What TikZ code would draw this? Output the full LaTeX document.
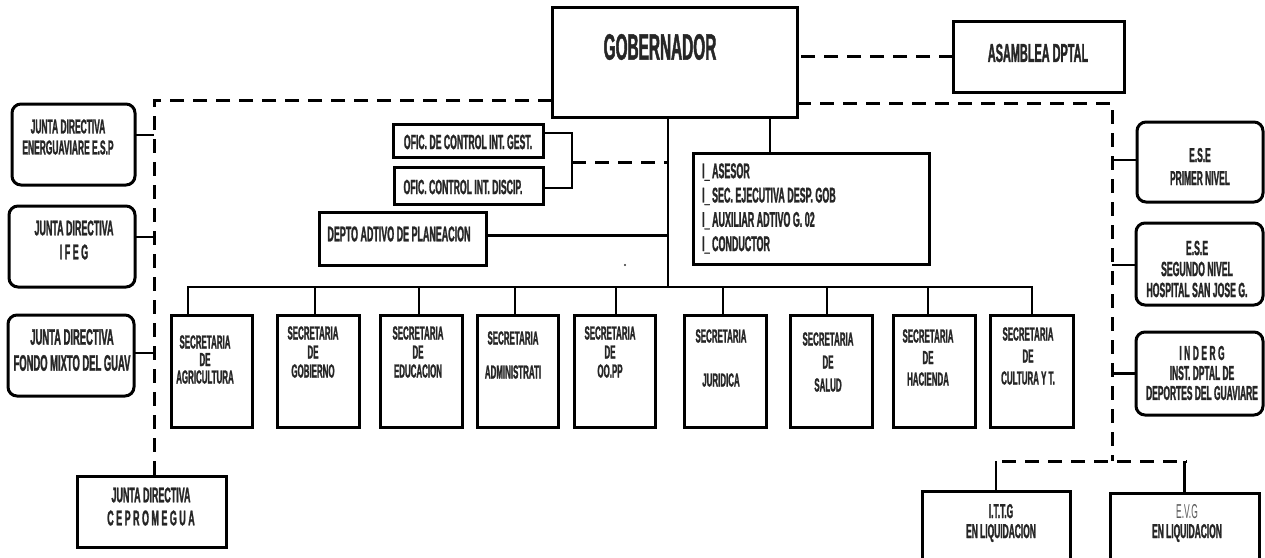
\documentclass[tikz,border=0pt]{standalone}
\usepackage{fontspec}
\newfontfamily\cf{Liberation Sans}[UprightFeatures={FakeStretch=0.42}, BoldFeatures={FakeStretch=0.42, FakeBold=1.2}]
\newcommand\spc{\kern2.5pt}
\begin{document}
\begin{tikzpicture}[x=1pt,y=-1pt,
  box/.style={draw=black, line width=3pt, fill=white, inner sep=0pt, outer sep=0pt},
  rbox/.style={box, rounded corners=9pt},
  sz/.style 2 args={minimum width=#1pt, minimum height=#2pt},
  conn/.style={line width=2.6pt},
  dashln/.style={line width=3pt, dash pattern=on 14pt off 9pt},
  txt/.style={inner sep=0pt, text=black!85, align=center},
  fs/.style 2 args={font=\cf\bfseries\fontsize{\fpeval{#1*1.18}}{#2}\selectfont}]
\useasboundingbox (0,0) rectangle (1265,557);
\clip (0,0) rectangle (1265,557);
\fill[white] (0,0) rectangle (1265,557);

% boxes
\node[box, sz={245}{110}] (gob) at (674.5,62) {};
\node[box, sz={171}{71}] (asam) at (1038.5,56.5) {};
\node[rbox, sz={123}{81}] (je) at (73.5,144.5) {};
\node[rbox, sz={126}{81}] (jf) at (72,246.5) {};
\node[rbox, sz={126}{81}] (jm) at (71,355.5) {};
\node[box, sz={149}{71}] (jc) at (151.5,511.5) {};
\node[rbox, sz={126}{80}] (e1) at (1200,162) {};
\node[rbox, sz={127}{82}] (e2) at (1199.5,264) {};
\node[rbox, sz={127}{83}] (e3) at (1199.5,373.5) {};
\node[box, sz={150}{33}] (ofg) at (468,140.5) {};
\node[box, sz={149}{37}] (ofd) at (468.5,185.5) {};
\node[box, sz={167}{53}] (dep) at (402.5,238.5) {};
\node[box, sz={236}{111}] (staff) at (811,208.5) {};
\node[box, sz={148}{99}] (ittg) at (996,540.5) {};
\node[box, sz={149}{97}] (evg) at (1184.5,541.5) {};
\node[box, sz={81}{112}] (s1) at (211.5,371) {};
\node[box, sz={82}{112}] (s2) at (318,371) {};
\node[box, sz={82}{112}] (s3) at (421,371) {};
\node[box, sz={81}{112}] (s4) at (517.5,371) {};
\node[box, sz={81}{112}] (s5) at (614.5,371) {};
\node[box, sz={82}{112}] (s6) at (725,371) {};
\node[box, sz={82}{112}] (s7) at (831,371) {};
\node[box, sz={82}{112}] (s8) at (934,371) {};
\node[box, sz={83}{112}] (s9) at (1031.5,371) {};

% texts
\node[txt, fs={31}{36}] (tgob) at (660,47) {GOBERNADOR};
\node[txt, fs={22}{26}] (tasam) at (1038,53) {ASAMBLEA DPTAL};
\node[txt, fs={17}{21}] (tje) at (68,137) {JUNTA DIRECTIVA\\ENERGUAVIARE E.S.P};
\node[txt, fs={18}{24}] (tjf) at (74,240) {JUNTA DIRECTIVA\\I\spc F\spc E\spc G};
\node[txt, fs={19}{26}] (tjm) at (72,350) {JUNTA DIRECTIVA\\FONDO MIXTO DEL GUAV};
\node[txt, fs={18}{23}] (tjc) at (151,506.5) {JUNTA DIRECTIVA\\C\spc E\spc P\spc R\spc O\spc M\spc E\spc G\spc U\spc A};
\node[txt, fs={17}{23}] (te1) at (1200,166.5) {E.S.E\\PRIMER NIVEL};
\node[txt, fs={17.5}{21}] (te2) at (1197,269) {E.S.E\\SEGUNDO NIVEL\\HOSPITAL SAN JOSE G.};
\node[txt, fs={17}{20}] (te3) at (1202,373) {I\spc N\spc D\spc E\spc R\spc G\\INST. DPTAL DE\\DEPORTES DEL GUAVIARE};
\node[txt, fs={17.5}{20}] (tofg) at (468,142) {OFIC. DE CONTROL INT. GEST.};
\node[txt, fs={17.5}{20}] (tofd) at (463,187) {OFIC. CONTROL INT. DISCIP.};
\node[txt, fs={18}{20}] (tdep) at (399,234) {DEPTO ADTIVO DE PLANEACION};
\node[txt, fs={18}{24.3}, anchor=west, align=left] (tstaff) at (702,208.5) {I\_ ASESOR\\I\_ SEC. EJECUTIVA DESP. GOB\\I\_ AUXILIAR ADTIVO G. 02\\I\_ CONDUCTOR};
\node[txt, fs={17}{20}] (tittg) at (1001,523) {I.T.T.G\\EN LIQUIDACION};
\node[txt, fs={17}{20}] (tevg) at (1187,523) {{\mdseries\color{black!65}E.V.G}\\EN LIQUIDACION};
\node[txt, fs={16}{17.5}] (ts1) at (205,359.5) {SECRETARIA\\DE\\AGRICULTURA};
\node[txt, fs={16}{19}] (ts2) at (313,352) {SECRETARIA\\DE\\GOBIERNO};
\node[txt, fs={16}{19}] (ts3) at (418,352) {SECRETARIA\\DE\\EDUCACION};
\node[txt, fs={16}{34}] (ts4) at (513,355) {SECRETARIA\\ADMINISTRATI};
\node[txt, fs={16}{19}] (ts5) at (610,352) {SECRETARIA\\DE\\OO.PP};
\node[txt, fs={16}{44}] (ts6) at (721,358) {SECRETARIA\\JURIDICA};
\node[txt, fs={16}{23}] (ts7) at (828,362) {SECRETARIA\\DE\\SALUD};
\node[txt, fs={16}{21.5}] (ts8) at (928,357.5) {SECRETARIA\\DE\\HACIENDA};
\node[txt, fs={16}{22}] (ts9) at (1028,356) {SECRETARIA\\DE\\CULTURA Y T.};

% coordinates
\coordinate (bus) at (668,287);
\coordinate (fl) at (154,100);
\coordinate (fr) at (1112,103);
\coordinate (fb) at (1112,461);
\coordinate (br) at (572,162);
\coordinate (st) at ([xshift=-41pt]staff.north);
\coordinate (d1) at ([xshift=-23.5pt]s1.north);
\coordinate (d2) at ([xshift=-3pt]s2.north);
\coordinate (d3) at ([xshift=-2pt]s3.north);
\coordinate (d4) at ([xshift=-2.5pt]s4.north);
\coordinate (d5) at ([xshift=1.5pt]s5.north);
\coordinate (d6) at ([xshift=-2pt]s6.north);
\coordinate (d7) at ([xshift=-4pt]s7.north);
\coordinate (d8) at ([xshift=-6pt]s8.north);
\coordinate (d9) at ([xshift=0.5pt]s9.north);
\coordinate (c1) at ([yshift=9.5pt]je.east);
\coordinate (c2) at ([yshift=9.5pt]jf.east);
\coordinate (c3) at ([yshift=2.5pt]jm.east);
\coordinate (r1) at ([yshift=2pt]e1.west);
\coordinate (r2) at ([yshift=-1pt]e2.west);
\coordinate (r3) at (e3.west);
\coordinate (dp) at ([yshift=3pt]dep.east);

% solid connectors
\draw[conn] (gob.south -| bus) -- (bus);
\draw[conn] (st |- gob.south) -- (st);
\draw[conn] (d1) -- (d1 |- bus) -- (d9 |- bus) -- (d9);
\foreach \d in {d2,d3,d4,d5,d6,d7,d8} \draw[conn] (\d |- bus) -- (\d);
\draw[conn] ([yshift=7.5pt]ofg.east) -| (br) |- ([yshift=-2.5pt]ofd.east);
\draw[line width=3.4pt] (dp) -- (dp -| bus);
\draw[conn] (c1) -- (c1 -| fl);
\draw[conn] (c2) -- (c2 -| fl);
\draw[conn] (c3) -- (c3 -| fl);
\draw[conn] (r1) -- (r1 -| fr);
\draw[conn] (r2) -- (r2 -| fr);
\draw[conn] (r3) -- (r3 -| fr);
\draw[conn] (ittg.north |- fb) -- (ittg.north);
\draw[conn] (evg.north |- fb) -- (evg.north);

% dashed connectors
\draw[dashln] (asam.west) -- (asam.west -| gob.east);
\draw[dashln] (gob.west |- fl) -- (fl) -- (fl |- jc.north);
\draw[dashln] (gob.east |- fr) -- (fr) -- (fb);
\draw[dashln] ([xshift=6pt]ittg.north |- fb) -- ([xshift=2pt]evg.north |- fb);
\draw[dashln] (br) -- (br -| bus);

\fill[black!80] (625,265) circle (1.2);
\end{tikzpicture}
\end{document}
